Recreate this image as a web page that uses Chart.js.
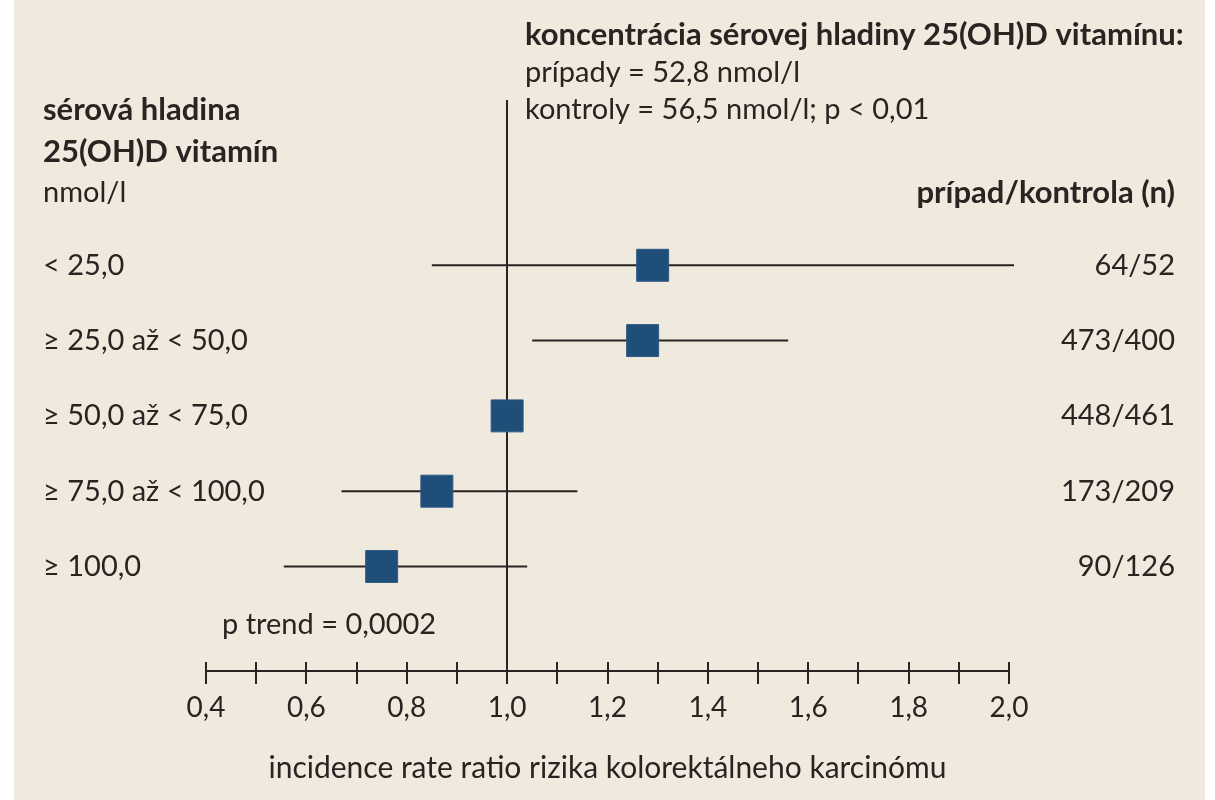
<!DOCTYPE html>
<html><head><meta charset="utf-8">
<script src="https://cdn.jsdelivr.net/npm/chart.js@4.4.1/dist/chart.umd.min.js"></script>
<style>html,body{margin:0;padding:0;background:#fff;}#wrap{width:1215px;height:800px;position:relative;}canvas{display:block;}</style>
</head><body><div id="wrap"><canvas id="c" width="1215" height="800" style="width:1215px;height:800px"></canvas></div>
<script>
// ---- data ----
const categories = ["< 25,0", "≥ 25,0 až < 50,0", "≥ 50,0 až < 75,0", "≥ 75,0 až < 100,0", "≥ 100,0"];
const counts = ["64/52", "473/400", "448/461", "173/209", "90/126"];
const irr = [1.29, 1.27, 1.00, 0.86, 0.75];
const ciLow = [0.85, 1.05, null, 0.67, 0.555];
const ciHigh = [2.01, 1.56, null, 1.14, 1.04];
const xMin = 0.4, xMax = 2.0, xStep = 0.1;
const headerLeft = ["sérová hladina", "25(OH)D vitamín", "nmol/l"];
const headerTop = ["koncentrácia sérovej hladiny 25(OH)D vitamínu:", "prípady = 52,8 nmol/l", "kontroly = 56,5 nmol/l; p < 0,01"];
const headerRight = "prípad/kontrola (n)";
const trendText = "p trend = 0,0002";
const axisTitle = "incidence rate ratio rizika kolorektálneho karcinómu";

// ---- style ----
const BG = '#f0e9dd';
const INK = '#2a2322';
const BLUE = '#1f4e79';
const FONT = 'Lato';
const FS = 29;
const FSB = 31;

const ciDatasets = categories.map((c, i) => ciLow[i] == null ? null : ({
  type: 'line', label: c,
  data: [{x: ciLow[i], y: i}, {x: ciHigh[i], y: i}],
  borderColor: INK, borderWidth: 2, pointRadius: 0, showLine: true, order: 2, clip: false
})).filter(Boolean);

const pointDataset = {
  type: 'scatter', label: 'IRR',
  data: irr.map((v, i) => ({x: v, y: i})),
  pointStyle: 'rect', pointRadius: 22.6, pointHoverRadius: 22.6,
  backgroundColor: BLUE, borderColor: '#2c5a85', borderWidth: 1, order: 1, clip: false
};

const bgPlugin = {
  id: 'bg',
  beforeDraw(chart) {
    const ctx = chart.ctx;
    ctx.save();
    ctx.fillStyle = '#ffffff'; ctx.fillRect(0, 0, chart.width, chart.height);
    ctx.fillStyle = BG; ctx.fillRect(14, 0, chart.width - 24, chart.height);
    ctx.restore();
  },
  beforeDatasetsDraw(chart) {
    const ctx = chart.ctx, xs = chart.scales.x, a = chart.chartArea;
    ctx.save();
    ctx.strokeStyle = INK; ctx.lineWidth = 2;
    const px = Math.round(xs.getPixelForValue(1.0));
    ctx.beginPath(); ctx.moveTo(px, a.top); ctx.lineTo(px, a.bottom); ctx.stroke();
    // upper part of tick marks
    xs.ticks.forEach(t => {
      const p = Math.round(xs.getPixelForValue(t.value));
      ctx.beginPath(); ctx.moveTo(p, a.bottom - 9); ctx.lineTo(p, a.bottom); ctx.stroke();
    });
    ctx.restore();
  },
  afterDraw(chart) {
    const ctx = chart.ctx, ys = chart.scales.y;
    ctx.save();
    ctx.fillStyle = INK; ctx.textBaseline = 'middle';
    const put = (t, x, y, bold, align) => {
      ctx.font = (bold ? 'bold ' + FSB : FS) + 'px ' + FONT;
      ctx.textAlign = align || 'left';
      ctx.fillText(t, x, y);
    };
    put(headerTop[0], 525, 35, true);
    put(headerTop[1], 525, 73, false);
    put(headerTop[2], 525, 110, false);
    put(headerLeft[0], 43, 110, true);
    put(headerLeft[1], 43, 152, true);
    put(headerLeft[2], 43, 193, false);
    put(headerRight, 1175, 193, true, 'right');
    categories.forEach((c, i) => {
      const y = ys.getPixelForValue(i);
      put(c, 43, y, false);
      put(counts[i], 1175, y, false, 'right');
    });
    put(trendText, 222, 625, false);
    ctx.restore();
  }
};

new Chart(document.getElementById('c'), {
  data: { datasets: [...ciDatasets, pointDataset] },
  options: {
    responsive: false, animation: false,
    layout: { padding: { left: 206, right: 206, top: 100, bottom: 0 } },
    plugins: { legend: { display: false }, tooltip: { enabled: false } },
    scales: {
      x: {
        type: 'linear', min: xMin, max: xMax,
        afterFit(s) { s.height = 129; },
        border: { display: true, color: INK, width: 2 },
        grid: { display: true, drawOnChartArea: false, drawTicks: true, tickLength: 13, color: INK, lineWidth: 2 },
        ticks: {
          stepSize: xStep, autoSkip: false, maxRotation: 0, padding: 7,
          color: INK, font: { family: FONT, size: 28 },
          callback(v) { const k = Math.round(v * 10); return k % 2 === 0 ? (k / 10).toFixed(1).replace('.', ',') : ''; }
        },
        title: { display: true, text: axisTitle, color: INK, font: { family: FONT, size: 30 }, padding: { top: 0, bottom: 14 } }
      },
      y: { type: 'linear', display: false, reverse: true, min: -2.195, max: 5.388 }
    }
  },
  plugins: [bgPlugin]
});
</script></body></html>
